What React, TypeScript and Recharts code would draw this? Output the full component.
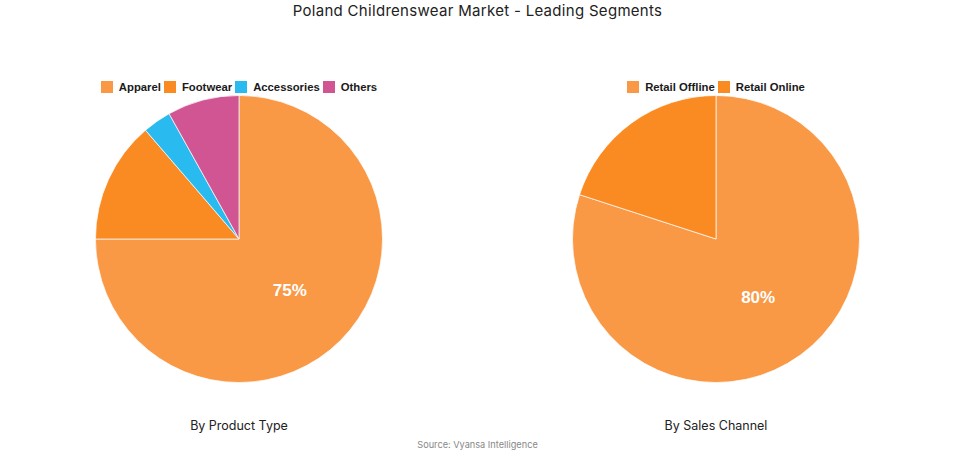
import { PieChart, Pie, Cell, Legend } from 'recharts';

const productNames = ['Apparel', 'Footwear', 'Accessories', 'Others'];
const productValues = [75, 13.7, 3.2, 8.1];
const productColors = ['#f99845', '#fa8a22', '#29bbef', '#d05592'];

const channelNames = ['Retail Offline', 'Retail Online'];
const channelValues = [80, 20];
const channelColors = ['#f99845', '#fa8a22'];

const RADIAN = Math.PI / 180;
const sansFont = 'Inter, sans-serif';
const boldFont = '"Liberation Sans", Arial, sans-serif';

const toRows = (names: string[], values: number[]) =>
  names.map((name, i) => ({ name, value: values[i] }));

function SliceLabel({ cx, cy, midAngle, outerRadius, value, index }: any) {
  if (index !== 0) return null;
  const r = outerRadius / 2;
  return (
    <text
      x={cx + r * Math.cos(-midAngle * RADIAN)}
      y={cy + r * Math.sin(-midAngle * RADIAN) + 0.7}
      fill="#fff"
      fontFamily={boldFont}
      fontWeight="bold"
      fontSize={17}
      textAnchor="middle"
      dominantBaseline="central"
    >
      {value}%
    </text>
  );
}

function LegendRow({ payload }: any) {
  const items = payload ?? [];
  return (
    <div style={{ display: 'flex', justifyContent: 'center', fontFamily: boldFont, fontWeight: 'bold', fontSize: 11.3, lineHeight: '14px', color: '#1a1a1a' }}>
      {items.map((item: any, i: number) => (
        <div key={item.value} style={{ display: 'flex', alignItems: 'center', marginRight: i < items.length - 1 ? 3 : 0 }}>
          <span style={{ width: 12, height: 12, background: item.color, marginRight: 6 }} />
          {item.value}
        </div>
      ))}
    </div>
  );
}

function SegmentPie({ left, names, values, colors, caption }: { left: number; names: string[]; values: number[]; colors: string[]; caption: string }) {
  return (
    <div style={{ position: 'absolute', left, top: 0, width: 478, height: 454 }}>
      <PieChart width={478} height={454} margin={{ top: 0, right: 0, bottom: 0, left: 0 }}>
        <Legend
          verticalAlign="middle"
          align="center"
          itemSorter={null}
          content={<LegendRow />}
          wrapperStyle={{ top: 80, left: 0, width: 478 }}
        />
        <Pie
          data={toRows(names, values)}
          dataKey="value"
          nameKey="name"
          cx={239}
          cy={239}
          outerRadius={143.5}
          startAngle={90}
          endAngle={-270}
          stroke="#fff"
          strokeOpacity={0.7}
          strokeWidth={1}
          label={SliceLabel}
          labelLine={false}
          isAnimationActive={false}
        >
          {names.map((name, i) => (
            <Cell key={name} fill={colors[i]} />
          ))}
        </Pie>
      </PieChart>
      <div style={{ position: 'absolute', left: 0, width: 478, top: 418, textAlign: 'center', fontFamily: sansFont, fontSize: 12.5, color: '#222' }}>
        {caption}
      </div>
    </div>
  );
}

export default function App() {
  return (
    <div style={{ position: 'absolute', left: 0, top: 0, width: 955, height: 454, background: '#fff', overflow: 'hidden' }}>
      <div style={{ position: 'absolute', left: 0, width: 955, top: 1, textAlign: 'center', fontFamily: sansFont, fontSize: 15, letterSpacing: 0.3, color: '#222' }}>
        Poland Childrenswear Market - Leading Segments
      </div>
      <SegmentPie left={0} names={productNames} values={productValues} colors={productColors} caption="By Product Type" />
      <SegmentPie left={477} names={channelNames} values={channelValues} colors={channelColors} caption="By Sales Channel" />
      <div style={{ position: 'absolute', left: 0, width: 955, top: 439, textAlign: 'center', fontFamily: sansFont, fontSize: 9.2, color: '#888' }}>
        Source: Vyansa Intelligence
      </div>
    </div>
  );
}
